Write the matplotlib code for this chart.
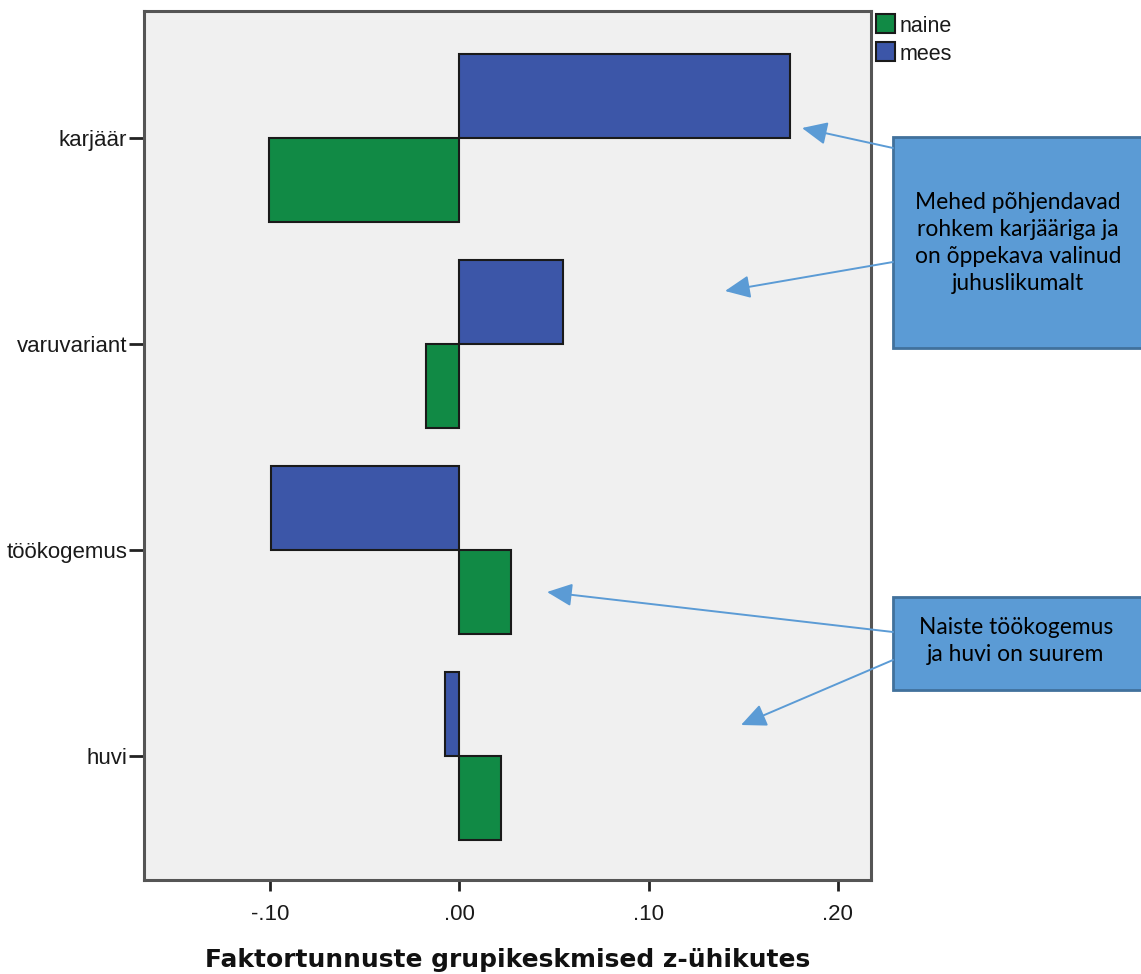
import matplotlib
matplotlib.use("Agg")
import matplotlib.pyplot as plt
from matplotlib.patches import Rectangle
import numpy as np

categories = ["karjäär", "varuvariant", "töökogemus", "huvi"]
mees = [0.175, 0.0545, -0.0995, -0.0076]
naine = [-0.101, -0.0175, 0.027, 0.0217]
xticks = [-0.10, 0.0, 0.10, 0.20]
xticklabels = ["-.10", ".00", ".10", ".20"]
series_names = ["naine", "mees"]
xlabel = "Faktortunnuste grupikeskmised z-ühikutes"
note1 = "Mehed põhjendavad\nrohkem karjääriga ja\non õppekava valinud\njuhuslikumalt"
note2 = "Naiste töökogemus\nja huvi on suurem"

W, H = 1141, 974
fig = plt.figure(figsize=(W / 100, H / 100), dpi=100)
fig.patch.set_facecolor("white")

ax = fig.add_axes([144 / W, 1 - 880 / H, 727 / W, 869 / H])
ax.set_facecolor("#f0f0f0")

green = "#118a45"
blue = "#3c56a8"
h = 0.408
y = np.arange(len(categories))
ax.barh(y - h, mees, height=h, align="edge", color=blue, edgecolor="#1a1a1a", linewidth=1.5, zorder=3)
ax.barh(y, naine, height=h, align="edge", color=green, edgecolor="#1a1a1a", linewidth=1.5, zorder=3)

ax.set_xlim(-0.1669, 0.2177)
ax.set_ylim(3.602, -0.6165)
ax.set_yticks(y)
ax.set_yticklabels(categories, fontsize=16, family="Liberation Sans", color="#1a1a1a")
ax.set_xticks(xticks)
ax.set_xticklabels(xticklabels, fontsize=16, family="Liberation Sans", color="#1a1a1a")
ax.tick_params(axis="both", direction="out", width=2, color="#222222")
ax.tick_params(axis="y", length=11, pad=1)
ax.tick_params(axis="x", length=8, pad=9)
for s in ax.spines.values():
    s.set_color("#555555")
    s.set_linewidth(2.2)
ax.set_xlabel(xlabel, fontsize=17.9, fontweight="bold", family="DejaVu Sans", labelpad=17, color="#111111")

# overlay for legend and callouts
ov = fig.add_axes([0, 0, 1, 1], zorder=10)
ov.set_xlim(0, W)
ov.set_ylim(H, 0)
ov.axis("off")
ov.patch.set_alpha(0)

for i, (name, col) in enumerate(zip(series_names, [green, blue])):
    y0 = 14 + i * 28
    ov.add_patch(Rectangle((876, y0), 19, 19, facecolor=col, edgecolor="#1a1a1a", linewidth=1.5))
    ov.text(900, y0 + 12, name, fontsize=15.5, family="Liberation Sans", va="center", ha="left", color="#1a1a1a")

box_fc = "#5b9bd5"
box_ec = "#41719c"
ov.add_patch(Rectangle((893, 137), 260, 211, facecolor=box_fc, edgecolor=box_ec, linewidth=2))
ov.add_patch(Rectangle((893, 597), 260, 93, facecolor=box_fc, edgecolor=box_ec, linewidth=2))
ov.text(1018, 243, note1, fontsize=16.4, family="Lato", ha="center", va="center", linespacing=1.36, color="black")
ov.text(1016, 641, note2, fontsize=16.4, family="Lato", ha="center", va="center", linespacing=1.36, color="black")

arrows = [((893, 148), (802, 128)), ((893, 262), (725, 291)),
          ((893, 632), (547, 592)), ((893, 660), (741, 725))]
for start, tip in arrows:
    ov.annotate("", xy=tip, xytext=start,
                arrowprops=dict(arrowstyle="-|>,head_length=1.1,head_width=0.5", color=box_fc,
                                lw=1.4, mutation_scale=14, shrinkA=0, shrinkB=0))

fig.savefig("out.png", dpi=100)
